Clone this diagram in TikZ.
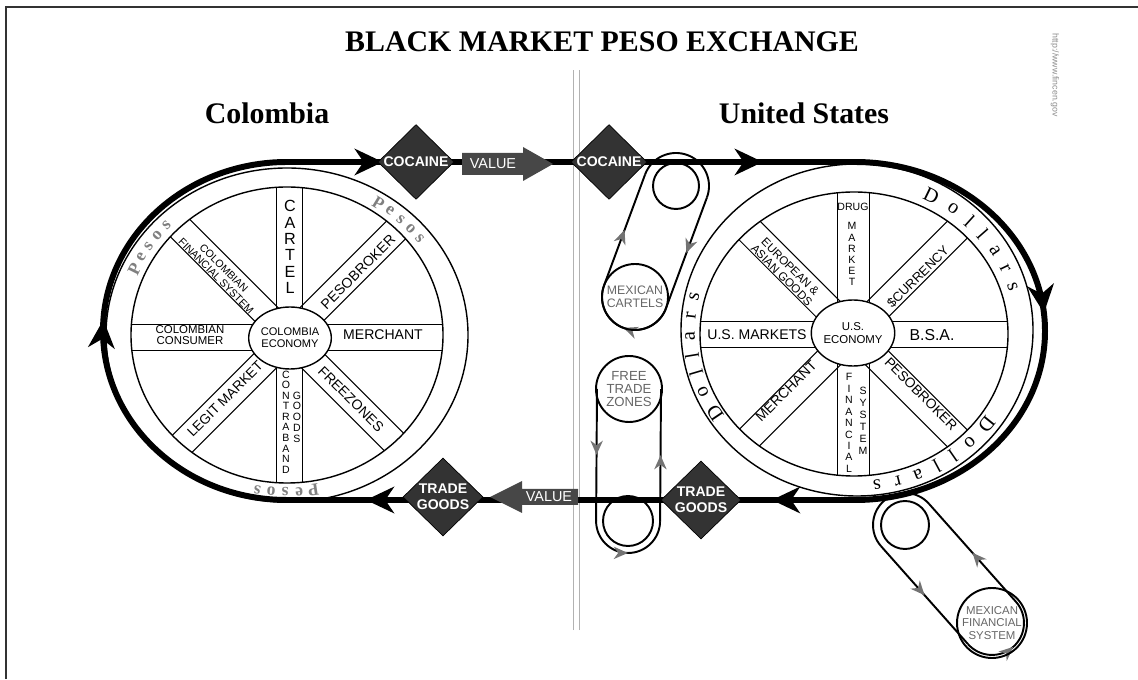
\documentclass[tikz,border=0pt]{standalone}
\usepackage{fontspec}
\setmainfont{Liberation Serif}
\setsansfont{Liberation Sans}
\usetikzlibrary{shapes.geometric,arrows.meta,decorations.markings}
\newcommand\myfs[2]{\fontsize{#1}{#2}\selectfont}
\def\p{0.02cm}
\begin{document}
\begin{tikzpicture}[x=0.02cm,y=0.02cm,
  ringline/.style={line width=0.8pt},
  spokeline/.style={line width=0.55pt},
  spk/.style={font=\sffamily\myfs{8}{9}, inner sep=0pt, align=center},
  col/.style={font=\sffamily\myfs{6}{6}, inner sep=0pt, align=center},
  hub/.style={ellipse, draw, fill=white, ringline, inner sep=0pt, align=center, font=\sffamily\myfs{6.3}{7}},
  diam/.style={diamond, draw=black, fill=black!80, text=white, font=\sffamily\bfseries\myfs{8}{9}, inner sep=0pt, align=center, minimum width=76*\p, minimum height=74*\p},
  valtext/.style={text=white, font=\sffamily\myfs{8.2}{9}, inner sep=0pt},
  belt/.style={line width=1.1pt},
  beltarr/.style={postaction={decorate}, decoration={markings, mark=at position 0.5 with {\arrow{Stealth[length=8pt,width=7pt,inset=2.5pt,color=black!55]}}}},
  pulley/.style={circle, draw, line width=1.1pt, inner sep=0pt},
  beltcircle/.style={circle, draw, line width=1.1pt, inner sep=0pt, align=center, text=black!60, font=\sffamily\myfs{7}{7.4}},
  flowline/.style={line width=3.4pt, postaction={decorate}, decoration={markings,
     mark=at position 0.0425 with {\arrow{Stealth[length=16pt,width=15pt,inset=5pt]}},
     mark=at position 0.211 with {\arrow{Stealth[length=16pt,width=15pt,inset=5pt]}},
     mark=at position 0.369 with {\arrow{Stealth[length=16pt,width=15pt,inset=5pt]}},
     mark=at position 0.539 with {\arrow{Stealth[length=16pt,width=15pt,inset=5pt]}},
     mark=at position 0.719 with {\arrow{Stealth[length=16pt,width=15pt,inset=5pt]}},
     mark=at position 0.882 with {\arrow{Stealth[length=16pt,width=15pt,inset=5pt]}}}},
  dol/.style={font=\myfs{11.5}{12}, inner sep=0pt},
  pes/.style={font=\bfseries\myfs{10}{10}, text=black!50, inner sep=0pt},
  heading/.style={font=\bfseries\myfs{17}{20}, inner sep=0pt}
]
\useasboundingbox (0,0) rectangle (1138,679);

% frame and divider
\draw[line width=1.2pt, black!80] (6,0) -- (6,672) -- (1138,672);
\draw[black!30, line width=0.5pt] (573,49) -- (573,609) (579,49) -- (579,609);

% headings
\node[heading] (title) at (602,637) {BLACK MARKET PESO EXCHANGE};
\node[heading] (colh) at (267,566) {Colombia};
\node[heading] (ush) at (804,566) {United States};
\node[font=\sffamily\myfs{5}{5}, text=black!45, rotate=-90, inner sep=0pt] (url) at (1055,604) {http://www.fincen.gov};

% ===== Colombia wheel =====
\node[ellipse, draw, ringline, minimum width=362*\p, minimum height=334*\p] (ringL) at (287,344) {};
\node[ellipse, draw, ringline, minimum width=312*\p, minimum height=296*\p] (innerL) at (287,344) {};
\begin{scope}
  \clip (287,344) ellipse [x radius=156, y radius=148];
  \foreach \a in {0,45,...,315}
    \draw[spokeline, shift={(289,342)}, rotate=\a] (24,13) -- (220,13) (24,-13) -- (220,-13);
\end{scope}
\node[hub, minimum width=66*\p, minimum height=62*\p] (hubL) at (290,341) {COLOMBIA\\ECONOMY};
\node[spk, font=\sffamily\myfs{9.2}{9.3}] (cartel) at (290,432) {C\\A\\R\\T\\E\\L};
\node[spk, rotate=45] (pbL) at (358,407) {PESOBROKER};
\node[spk] (merL) at (383,344) {MERCHANT};
\node[spk, rotate=-45] (frz) at (351,280) {FREEZONES};
\node[col] (contra) at (286,257) {C\\O\\N\\T\\R\\A\\B\\A\\N\\D};
\node[col, font=\sffamily\myfs{6}{6.1}] (goodsL) at (297,262) {G\\O\\O\\D\\S};
\node[spk, font=\sffamily\myfs{7.8}{9}, rotate=45] (legit) at (225,280) {LEGIT MARKET};
\node[spk, font=\sffamily\myfs{6.5}{6.4}] (ccons) at (190,344) {COLOMBIAN\\CONSUMER};
\node[spk, font=\sffamily\myfs{6}{6.2}, rotate=-45] (cfin) at (220,407) {COLOMBIAN\\FINANCIAL SYSTEM};
\foreach \c/\t [count=\i] in {P/155,e/150.2,s/145.4,o/140.6,s/135.8}
  \node[pes, rotate={atan2(-157*cos(\t),168*sin(\t))}] (pesA\i) at ({287+168*cos(\t)},{344+157*sin(\t)}) {\c};
\foreach \c/\t [count=\i] in {P/57,e/52.2,s/47.4,o/42.6,s/37.8}
  \node[pes, rotate={atan2(-157*cos(\t),168*sin(\t))}] (pesB\i) at ({287+168*cos(\t)},{344+157*sin(\t)}) {\c};
\foreach \c/\t [count=\i] in {P/-81,e/-85.8,s/-90.6,o/-95.4,s/-100.2}
  \node[pes, rotate={atan2(-157*cos(\t),168*sin(\t))}] (pesC\i) at ({287+168*cos(\t)},{344+157*sin(\t)}) {\c};

% ===== US wheel =====
\node[ellipse, draw, ringline, minimum width=352*\p, minimum height=332*\p] (ringR) at (857,349) {};
\node[ellipse, draw, ringline, minimum width=308*\p, minimum height=284*\p] (innerR) at (854,345) {};
\begin{scope}
  \clip (854,345) ellipse [x radius=154, y radius=142];
  \foreach \a/\w in {0/13,45/13,90/16,135/14,180/13,225/13,270/16,315/13}
    \draw[spokeline, shift={(853,345)}, rotate=\a] (24,\w) -- (220,\w) (24,-\w) -- (220,-\w);
\end{scope}
\node[hub, minimum width=70*\p, minimum height=66*\p, font=\sffamily\myfs{6.5}{7.5}] (hubR) at (853,346) {U.S.\\ECONOMY};
\node[spk, font=\sffamily\myfs{6}{6}] (drug) at (853,472) {DRUG};
\node[col, font=\sffamily\myfs{6}{6.3}] (mkt) at (852,425) {M\\A\\R\\K\\E\\T};
\node[spk, font=\sffamily\myfs{7.4}{8}, rotate=45] (curr) at (918,402) {\$CURRENCY};
\node[spk, font=\sffamily\myfs{9}{9}] (bsa) at (932,344) {B.S.A.};
\node[spk, font=\sffamily\myfs{7.8}{8}, rotate=-45] (pbR) at (921,285) {PESOBROKER};
\node[col, font=\sffamily\myfs{6}{6.5}] (fin) at (849,256) {F\\I\\N\\A\\N\\C\\I\\A\\L};
\node[col, font=\sffamily\myfs{6}{6.8}] (sys) at (863,258) {S\\Y\\S\\T\\E\\M};
\node[spk, rotate=45] (merR) at (786,288) {MERCHANT};
\node[spk] (usm) at (757,344) {U.S. MARKETS};
\node[spk, font=\sffamily\myfs{6.6}{6.8}, rotate=-45] (euro) at (786,408) {EUROPEAN \&\\ASIAN GOODS};
\foreach \c/\t [count=\i] in {D/62.5,o/53.5,l/46,l/39.3,a/32,r/24.5,s/17.2}
  \node[dol, rotate={atan2(-154*cos(\t),165*sin(\t))}] (dolA\i) at ({855+165*cos(\t)},{347+154*sin(\t)}) {\c};
\foreach \c/\t [count=\i] in {D/212,o/203,l/195.5,l/188.8,a/181.5,r/174,s/166.7}
  \node[dol, rotate={atan2(-154*cos(\t),165*sin(\t))}] (dolB\i) at ({855+165*cos(\t)},{347+154*sin(\t)}) {\c};
\foreach \c/\t [count=\i] in {D/-37,o/-46,l/-53.5,l/-60.2,a/-67.5,r/-75,s/-82.3}
  \node[dol, rotate={atan2(-154*cos(\t),165*sin(\t))}] (dolC\i) at ({855+165*cos(\t)},{347+154*sin(\t)}) {\c};

% ===== belts =====
% Mexican cartels
\begin{scope}[shift={(676,493)}, rotate=249.7]
  \draw[belt,beltarr] (118.3,-33) -- (0,-33);
  \draw[belt,beltarr] (0,33) -- (118.3,33);
  \draw[belt,beltarr] (118.3,33) arc[start angle=90,end angle=-90,radius=33];
  \draw[belt] (0,-33) arc[start angle=-90,end angle=-270,radius=33];
\end{scope}
\node[beltcircle, minimum size=66*\p] (cartels) at (635,382) {MEXICAN\\CARTELS};
\node[pulley, minimum size=46*\p] (pulA) at (676,493) {};
% Free trade zones
\begin{scope}[shift={(629,290)}, rotate=269.6]
  \draw[belt,beltarr] (0,-32) -- (132,-32);
  \draw[belt,beltarr] (132,32) -- (0,32);
  \draw[belt,beltarr] (132,-32) arc[start angle=-90,end angle=90,radius=32];
\end{scope}
\node[beltcircle, minimum size=66*\p, font=\sffamily\myfs{7.5}{7.4}] (ftz) at (629,290) {FREE\\TRADE\\ZONES};
\node[pulley, minimum size=50*\p] (pulB) at (628,158) {};
% Mexican financial system
\begin{scope}[shift={(905,154)}, rotate=-48.4]
  \draw[belt,beltarr] (0,-32) -- (131,-32);
  \draw[belt,beltarr] (131,32) -- (0,32);
  \draw[belt,beltarr] (131,-32) arc[start angle=-90,end angle=90,radius=32];
  \draw[belt] (0,32) arc[start angle=90,end angle=270,radius=32];
\end{scope}
\node[beltcircle, minimum size=70*\p, font=\sffamily\myfs{6.5}{7.3}] (mfs) at (992,56) {MEXICAN\\FINANCIAL\\SYSTEM};
\node[pulley, minimum size=48*\p] (pulC) at (905,154) {};

% ===== main flow loop =====
\draw[flowline] (287,517) -- (855,517)
  arc[start angle=90,end angle=-90,x radius=190,y radius=169]
  -- (287,179)
  arc[start angle=270,end angle=90,x radius=184,y radius=169] -- cycle;

% value arrows
\path[fill=black!72] (462,526) -- (523,526) -- (523,532) -- (553,515) -- (523,498) -- (523,504) -- (462,504) -- cycle;
\node[valtext] (valT) at (493,515) {VALUE};
\path[fill=black!72] (490,182) -- (522,198) -- (522,190) -- (578,190) -- (578,174) -- (522,174) -- (522,166) -- cycle;
\node[valtext] (valB) at (549,182) {VALUE};

% diamonds
\node[diam] (cocL) at (416,517) {COCAINE};
\node[diam] (cocR) at (609,517) {COCAINE};
\node[diam, minimum width=80*\p, minimum height=78*\p] (tgL) at (443,182) {TRADE\\GOODS};
\node[diam, minimum width=80*\p, minimum height=78*\p] (tgR) at (701,179) {TRADE\\GOODS};
\end{tikzpicture}
\end{document}
